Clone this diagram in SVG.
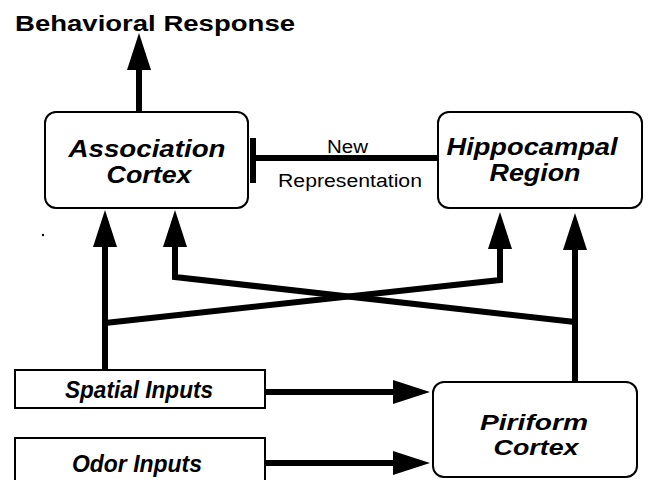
<svg xmlns="http://www.w3.org/2000/svg" width="649" height="480" viewBox="0 0 649 480">
<style>
.box{fill:#fff;stroke:#000;stroke-width:2}
.lbl{font-family:"Liberation Sans",Arial,Helvetica,sans-serif;font-weight:bold;font-style:italic;font-size:24px;text-anchor:middle;fill:#000}
.in{font-size:23px}
.pc{font-size:22px}
.title{font-family:"Liberation Sans",Arial,Helvetica,sans-serif;font-weight:bold;font-size:22px;fill:#000}
.small{font-family:"Liberation Sans",Arial,Helvetica,sans-serif;font-size:18px;text-anchor:middle;fill:#000}
.con{fill:none;stroke:#000;stroke-width:6;stroke-linejoin:miter}
</style>
<defs>
<marker id="ah" markerUnits="userSpaceOnUse" markerWidth="37" markerHeight="24" refX="0" refY="12" orient="auto" overflow="visible">
<path d="M0,0 L37,12 L0,24 Z" fill="#000"/>
</marker>
</defs>
<rect width="649" height="480" fill="#fff"/>
<text class="title" x="15" y="31" textLength="280" lengthAdjust="spacingAndGlyphs">Behavioral Response</text>
<g id="association">
<rect class="box" x="45" y="112" width="203" height="96" rx="11"/>
<text class="lbl" x="147" y="157" textLength="157" lengthAdjust="spacingAndGlyphs">Association</text>
<text class="lbl" x="149" y="183" textLength="85" lengthAdjust="spacingAndGlyphs">Cortex</text>
</g>
<g id="hippocampal">
<rect class="box" x="438" y="112" width="204" height="96" rx="11"/>
<text class="lbl" x="532" y="155" textLength="171" lengthAdjust="spacingAndGlyphs">Hippocampal</text>
<text class="lbl" x="535" y="181" textLength="91" lengthAdjust="spacingAndGlyphs">Region</text>
</g>
<g id="piriform">
<rect class="box" x="433" y="382" width="204" height="95" rx="11"/>
<text class="lbl pc" x="534" y="430" textLength="108" lengthAdjust="spacingAndGlyphs">Piriform</text>
<text class="lbl pc" x="536" y="455" textLength="85" lengthAdjust="spacingAndGlyphs">Cortex</text>
</g>
<g id="spatial">
<rect class="box" x="15" y="370" width="250" height="38"/>
<text class="lbl in" x="139" y="398" textLength="148" lengthAdjust="spacingAndGlyphs">Spatial Inputs</text>
</g>
<g id="odor">
<rect class="box" x="15" y="438" width="250" height="50"/>
<text class="lbl in" x="137" y="472" textLength="130" lengthAdjust="spacingAndGlyphs">Odor Inputs</text>
</g>
<g id="connectors">
<path class="con" d="M139,112 V70" marker-end="url(#ah)"/>
<path class="con" d="M253,158 H438"/>
<rect x="250" y="138" width="6" height="45" fill="#000"/>
<path class="con" d="M105,370 V247" marker-end="url(#ah)"/>
<path class="con" d="M105,323 L500,280 V249" marker-end="url(#ah)"/>
<path class="con" d="M575,382 V250" marker-end="url(#ah)"/>
<path class="con" d="M575,322 L175,277 V247" marker-end="url(#ah)"/>
<path class="con" d="M265,392 H393" marker-end="url(#ah)"/>
<path class="con" d="M265,463 H393" marker-end="url(#ah)"/>
</g>
<text class="small" x="347.5" y="153" textLength="41" lengthAdjust="spacingAndGlyphs">New</text>
<text class="small" x="350" y="187" textLength="144" lengthAdjust="spacingAndGlyphs">Representation</text>
<circle cx="43" cy="235" r="1.2" fill="#000"/>
</svg>
